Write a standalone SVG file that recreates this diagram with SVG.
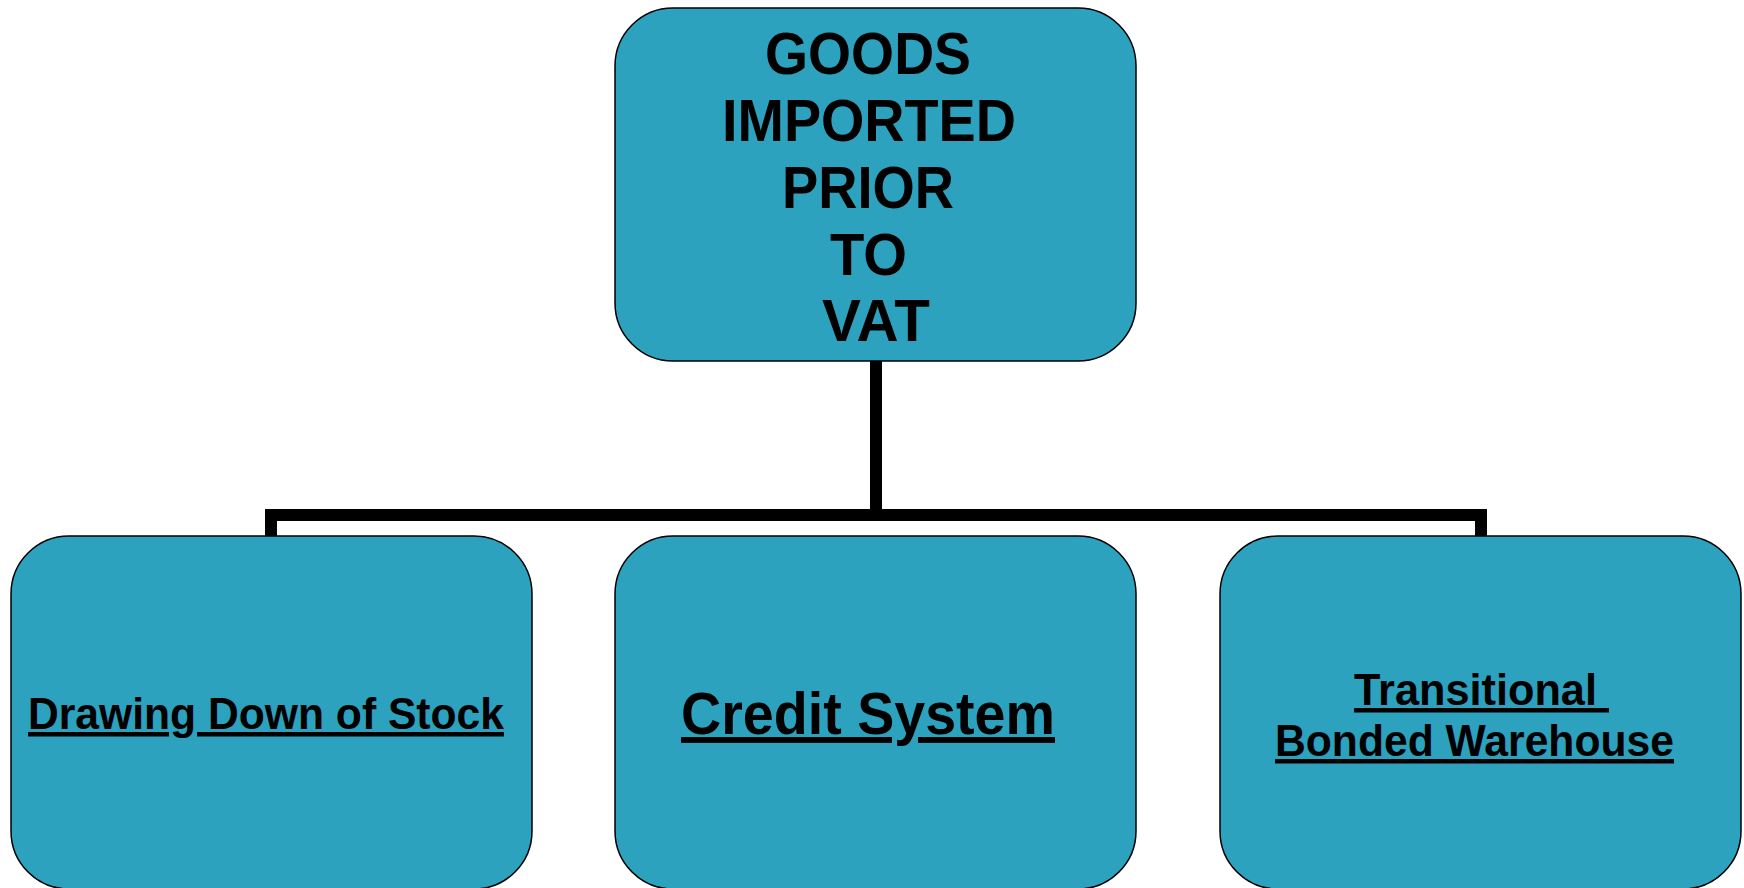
<svg xmlns="http://www.w3.org/2000/svg" width="1744" height="888" viewBox="0 0 1744 888">
<style>
.box{fill:#2ca2bf;stroke:#000;stroke-width:1.5}
.t{font-family:"Liberation Sans",Arial,sans-serif;font-weight:bold;fill:#000}
.u{text-decoration:underline;text-decoration-skip-ink:none}
.conn{fill:none;stroke:#000;stroke-width:12;stroke-linejoin:miter;stroke-linecap:butt}
</style>
<rect x="0" y="0" width="1744" height="888" fill="#fff"/>
<g id="connectors">
<path class="conn" d="M876,361 V515"/>
<path class="conn" d="M271,537 V515 H1481 V537"/>
</g>
<g id="node-top">
<rect class="box" x="615" y="8" width="521" height="353" rx="58" ry="58"/>
<text class="t" font-size="60" x="765" y="74" textLength="206" lengthAdjust="spacingAndGlyphs">GOODS</text>
<text class="t" font-size="60" x="722" y="141" textLength="294" lengthAdjust="spacingAndGlyphs">IMPORTED</text>
<text class="t" font-size="60" x="782" y="208" textLength="172" lengthAdjust="spacingAndGlyphs">PRIOR</text>
<text class="t" font-size="60" x="830" y="275" textLength="77" lengthAdjust="spacingAndGlyphs">TO</text>
<text class="t" font-size="60" x="822" y="341" textLength="108" lengthAdjust="spacingAndGlyphs">VAT</text>
</g>
<g id="node-drawing">
<rect class="box" x="11" y="536" width="521" height="353" rx="58" ry="58"/>
<text class="t u" font-size="45" x="28" y="729" textLength="476" lengthAdjust="spacingAndGlyphs">Drawing Down of Stock</text>
</g>
<g id="node-credit">
<rect class="box" x="615" y="536" width="521" height="353" rx="58" ry="58"/>
<text class="t u" font-size="59" x="681" y="734" textLength="374" lengthAdjust="spacingAndGlyphs">Credit System</text>
</g>
<g id="node-bonded">
<rect class="box" x="1220" y="536" width="521" height="353" rx="58" ry="58"/>
<text class="t u" font-size="45" x="1354" y="705" textLength="255" lengthAdjust="spacingAndGlyphs" xml:space="preserve">Transitional </text>
<text class="t u" font-size="45" x="1275" y="756" textLength="399" lengthAdjust="spacingAndGlyphs">Bonded Warehouse</text>
</g>
</svg>
